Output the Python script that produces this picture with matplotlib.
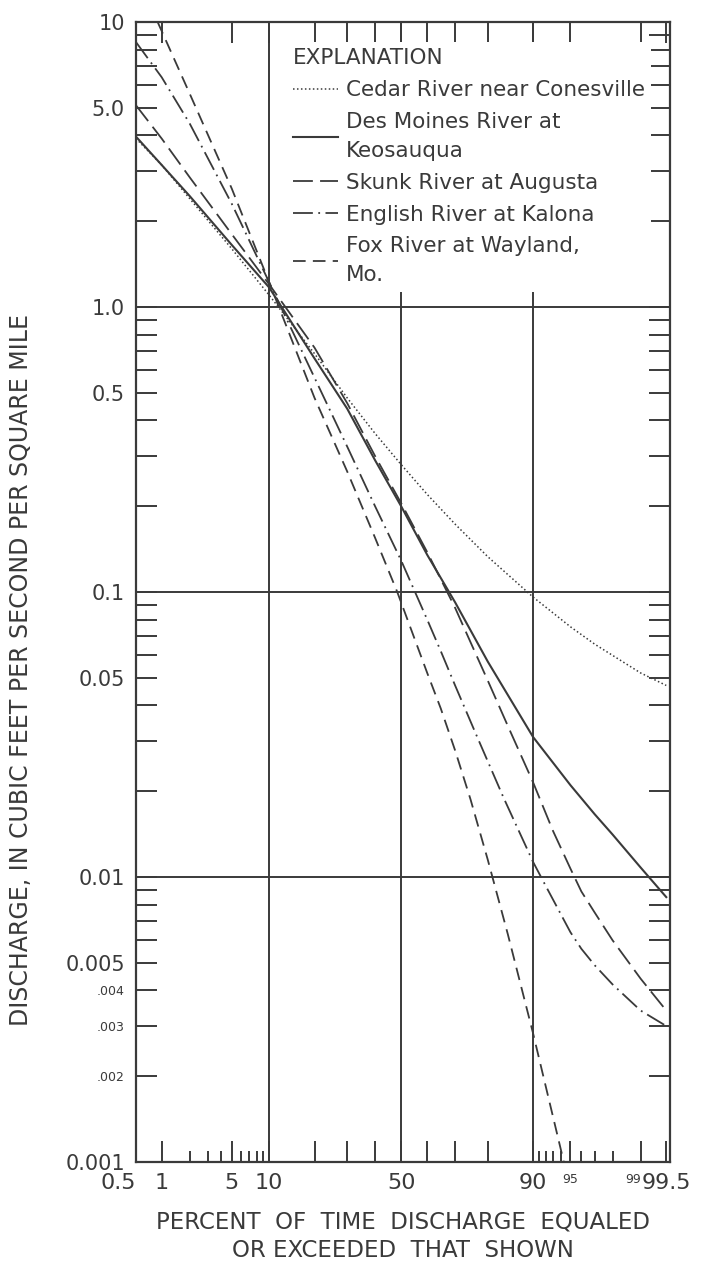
import numpy as np
import matplotlib
matplotlib.use("Agg")
import matplotlib.pyplot as plt
from matplotlib.ticker import FixedLocator, NullFormatter, LogLocator
from statistics import NormalDist

# Flow-duration curves, discharge in cfs per square mile
# x = percent of time discharge equaled or exceeded
cedar_pct = [0.5, 1, 2, 5, 10, 20, 30, 40, 50, 60, 70, 80, 90, 95, 97, 99, 99.5]
cedar_q = [3.9, 3.15, 2.4, 1.6, 1.1, 0.686, 0.48, 0.36, 0.28, 0.22, 0.173, 0.133,
           0.096, 0.0755, 0.0656, 0.052, 0.047]

desmoines_pct = [0.5, 1, 2, 5, 10, 20, 30, 40, 50, 60, 70, 80, 90, 95, 97, 98, 99, 99.5]
desmoines_q = [3.96, 3.15, 2.45, 1.65, 1.17, 0.66, 0.44, 0.29, 0.2, 0.135, 0.092,
               0.057, 0.031, 0.021, 0.0166, 0.0141, 0.0108, 0.0085]

skunk_pct = [0.5, 1, 2, 5, 10, 20, 30, 40, 50, 60, 70, 76, 80, 85, 90, 93, 95, 96,
             97, 98, 99, 99.5]
skunk_q = [5.1, 3.9, 2.85, 1.8, 1.2, 0.72, 0.46, 0.3, 0.205, 0.138, 0.088, 0.0628,
           0.0489, 0.0339, 0.0215, 0.0145, 0.0107, 0.0089, 0.0075, 0.006, 0.0044,
           0.0034]

english_pct = [0.5, 1, 2, 5, 10, 20, 30, 40, 50, 60, 65, 70, 77, 84, 90, 92, 95,
               96, 97, 98, 99, 99.5]
english_q = [8.5, 6.4, 4.4, 2.3, 1.22, 0.565, 0.324, 0.2, 0.129, 0.08, 0.062, 0.047,
             0.031, 0.019, 0.0113, 0.0093, 0.0064, 0.0056, 0.0049, 0.0042, 0.0034,
             0.003]

fox_pct = [0.9, 2, 5, 10, 20, 30, 40, 48.5, 60, 65, 70, 75, 80, 85, 90, 94.3]
fox_q = [10, 5.6, 2.6, 1.22, 0.48, 0.265, 0.155, 0.1, 0.052, 0.039, 0.0278, 0.0187,
         0.0115, 0.0063, 0.00283, 0.001]

labels = ["Cedar River near Conesville", "Des Moines River at\nKeosauqua",
          "Skunk River at Augusta", "English River at Kalona",
          "Fox River at Wayland,\nMo."]

# axis ticks
x_labeled = [0.5, 1, 5, 10, 50, 90, 95, 99, 99.5]
x_long = [20, 30, 40, 60, 70, 80]
x_short = [2, 3, 4, 6, 7, 8, 9, 91, 92, 93, 94, 96, 97, 98]
y_labeled = [10, 5, 1, 0.5, 0.1, 0.05, 0.01, 0.005, 0.004, 0.003, 0.002, 0.001]
y_ticktext = ["10", "5.0", "1.0", "0.5", "0.1", "0.05", "0.01", "0.005",
              ".004", ".003", ".002", "0.001"]
grid_x = [10, 50, 90]
grid_y = [1, 0.1, 0.01]

ink = "#3a3a3a"
plt.rcParams['font.family'] = ['DejaVu Sans']
plt.rcParams['text.color'] = ink

_nd = NormalDist()
_ppf = np.vectorize(lambda v: _nd.inv_cdf(v / 100.0), otypes=[float])
_cdf = np.vectorize(lambda v: _nd.cdf(v) * 100.0, otypes=[float])


def prob_fwd(p):
    p = np.clip(np.asarray(p, dtype=float), 1e-6, 100 - 1e-6)
    return _ppf(p)


def prob_inv(z):
    return _cdf(np.asarray(z, dtype=float))


fig = plt.figure(figsize=(7.01, 12.66), dpi=100)
ax = fig.add_axes([136 / 701, 1 - 1162 / 1266, 534 / 701, 1140 / 1266])
ax.set_xscale('function', functions=(prob_fwd, prob_inv))
ax.set_yscale('log')
ax.set_xlim(0.5, 99.55)
ax.set_ylim(0.001, 10)

for gx in grid_x:
    ax.axvline(gx, color=ink, lw=1.4, zorder=1)
for gy in grid_y:
    ax.axhline(gy, color=ink, lw=1.4, zorder=1)

ax.plot(cedar_pct, cedar_q, color=ink, lw=1.1, ls=(0, (1, 1.6)), label=labels[0])
ax.plot(desmoines_pct, desmoines_q, color=ink, lw=1.5, ls='-', label=labels[1])
ax.plot(skunk_pct, skunk_q, color=ink, lw=1.3, ls=(0, (11, 4)), label=labels[2])
ax.plot(english_pct, english_q, color=ink, lw=1.3, ls=(0, (11, 3, 1, 3)), label=labels[3])
ax.plot(fox_pct, fox_q, color=ink, lw=1.3, ls=(0, (7, 4)), label=labels[4])

# x ticks
ax.xaxis.set_major_locator(FixedLocator(x_labeled + x_long))
ax.xaxis.set_minor_locator(FixedLocator(x_short))
ax.xaxis.set_minor_formatter(NullFormatter())
xt = []
for v in x_labeled + x_long:
    if v in x_labeled:
        xt.append("%g" % v)
    else:
        xt.append("")
ax.set_xticklabels(xt)
ax.tick_params(axis='x', which='major', direction='in', length=15, width=1.4,
               color=ink, top=True, labelsize=16, labelcolor=ink, pad=8)
ax.tick_params(axis='x', which='minor', direction='in', length=8, width=1.4,
               color=ink, top=False)
for t in ax.get_xticklabels():
    s = t.get_text()
    if s in ("95", "99"):
        t.set_fontsize(9)
    if s == "0.5":
        t.set_ha('right')
    if s == "99":
        t.set_ha('right')

# y ticks
ax.yaxis.set_major_locator(FixedLocator(y_labeled))
ax.set_yticklabels(y_ticktext)
ax.yaxis.set_minor_locator(LogLocator(base=10, subs=np.arange(2, 10)))
ax.yaxis.set_minor_formatter(NullFormatter())
ax.tick_params(axis='y', which='both', direction='in', length=15, width=1.4,
               color=ink, right=True, labelsize=15, labelcolor=ink, pad=8)
for t in ax.get_yticklabels():
    if t.get_text().startswith(".00"):
        t.set_fontsize(9)

for sp in ax.spines.values():
    sp.set_linewidth(1.6)
    sp.set_color(ink)

leg = ax.legend(loc='upper left', bbox_to_anchor=(0.262, 0.992), fontsize=15.5,
                title="EXPLANATION", title_fontsize=15.5, alignment='left',
                handlelength=2.1, handletextpad=0.35, labelspacing=0.55,
                borderpad=0.3, frameon=True, fancybox=False)
leg.get_frame().set_edgecolor('none')
leg.get_frame().set_facecolor('white')
leg.get_frame().set_alpha(1)
for t in leg.get_texts():
    t.set_linespacing(1.55)

fig.text(0.030, 0.471, "DISCHARGE, IN CUBIC FEET PER SECOND PER SQUARE MILE",
         rotation=90, ha='center', va='center', fontsize=17, color=ink)
fig.text(0.575, 0.0237, "PERCENT  OF  TIME  DISCHARGE  EQUALED\nOR EXCEEDED  THAT  SHOWN",
         ha='center', va='center', fontsize=16.5, color=ink, linespacing=1.3)

fig.savefig("out.png", dpi=100)
